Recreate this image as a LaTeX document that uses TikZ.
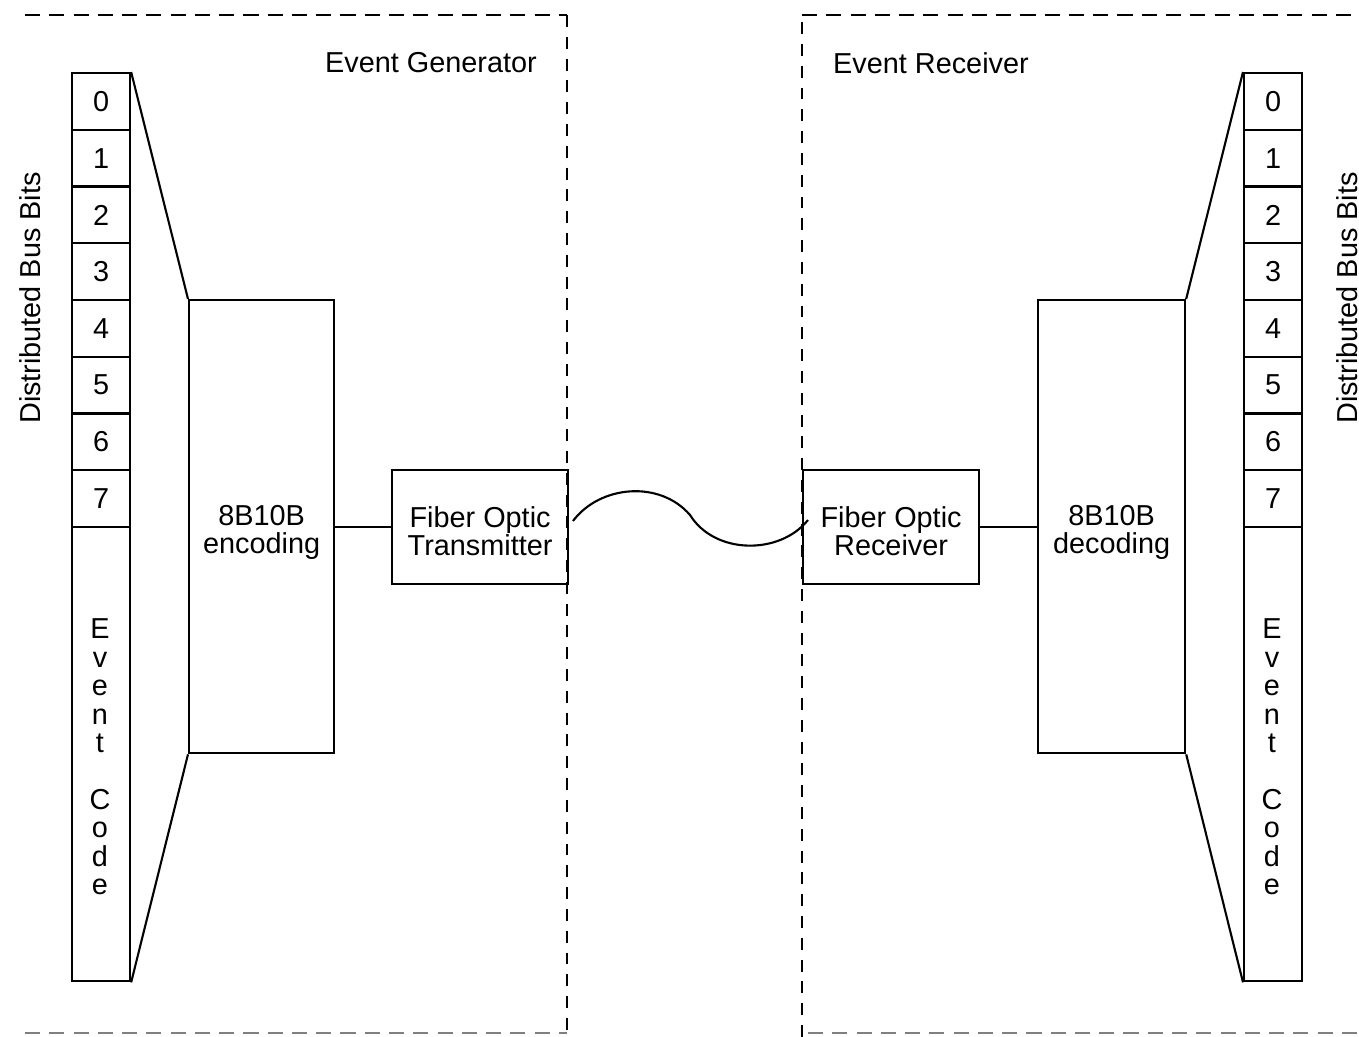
\documentclass[tikz,border=0pt]{standalone}
\usepackage{fontspec}
\setmainfont{Liberation Sans}
\newcommand{\lblfont}{\fontsize{8.2}{8.1}\selectfont}
\begin{document}
\begin{tikzpicture}[x=0.01cm,y=-0.01cm,line width=0.6pt,
  cell/.style={draw,inner sep=0pt,minimum width=0.58cm,minimum height=0.5675cm,anchor=north west,font=\lblfont},
  blk/.style={draw,inner sep=0pt,anchor=north west},
  lbl/.style={inner sep=0pt,font=\lblfont,align=center},
  hframe/.style={dash pattern=on 4.3pt off 2.6pt},
  vframe/.style={dash pattern=on 3.4pt off 2.8pt}]
\useasboundingbox (0,0) rectangle (1359,1037);
% frames
\draw[hframe] (25,15) -- (567,15);
\draw[vframe] (567,15) -- (567,1037);
\draw[hframe,gray] (25,1033) -- (567,1033);
\draw[vframe] (802,1037) -- (802,15);
\draw[hframe] (802,15) -- (1359,15);
\draw[hframe,gray] (808,1033) -- (1359,1033);
\node[lbl] (gen) at (431,63) {Event Generator};
\node[lbl] (rec) at (931,63) {Event Receiver};
% left bit column
\foreach \i in {0,...,7} \node[cell] (lb\i) at (71,{72+56.75*\i}) {\i};
\node[cell,minimum height=4.54cm] (lev) at (71,526) {};
\node[lbl] (levt) at (100,757) {E\\v\\e\\n\\t\\\mbox{}\\C\\o\\d\\e};
\node[lbl,rotate=90] (lbus) at (30,298) {Distributed Bus Bits};
% right bit column
\foreach \i in {0,...,7} \node[cell] (rb\i) at (1243,{72+56.75*\i}) {\i};
\node[cell,minimum height=4.54cm] (rev) at (1243,526) {};
\node[lbl] (revt) at (1272,757) {E\\v\\e\\n\\t\\\mbox{}\\C\\o\\d\\e};
\node[lbl,rotate=90] (rbus) at (1347,298) {Distributed Bus Bits};
% blocks
\node[blk,minimum width=1.45cm,minimum height=4.53cm] (enc) at (188,299) {};
\node[blk,minimum width=1.76cm,minimum height=1.14cm] (tx) at (391,469) {};
\node[blk,minimum width=1.76cm,minimum height=1.14cm] (rx) at (802,469) {};
\node[blk,minimum width=1.47cm,minimum height=4.53cm] (dec) at (1037,299) {};
\node[lbl] (enct) at ([yshift=-1.6pt]enc.center) {8B10B\\encoding};
\node[lbl] (txt) at ([yshift=-1.2pt]tx.center) {Fiber Optic\\Transmitter};
\node[lbl] (rxt) at ([yshift=-1.2pt]rx.center) {Fiber Optic\\Receiver};
\node[lbl] (dect) at ([yshift=-1.6pt]dec.center) {8B10B\\decoding};
% connectors
\draw (lb0.north east) -- (enc.north west);
\draw (lev.south east) -- (enc.south west);
\draw (dec.north east) -- (rb0.north west);
\draw (dec.south east) -- (rev.south west);
\draw (enc.east) -- (enc.east -| tx.west);
\draw (rx.east) -- (rx.east -| dec.west);
\coordinate (fa) at (573,521);
\coordinate (fb) at (808,520);
\draw (fa) .. controls (600,485) and (660,480) .. (690,515) .. controls (715,555) and (780,555) .. (fb);
\end{tikzpicture}
\end{document}
